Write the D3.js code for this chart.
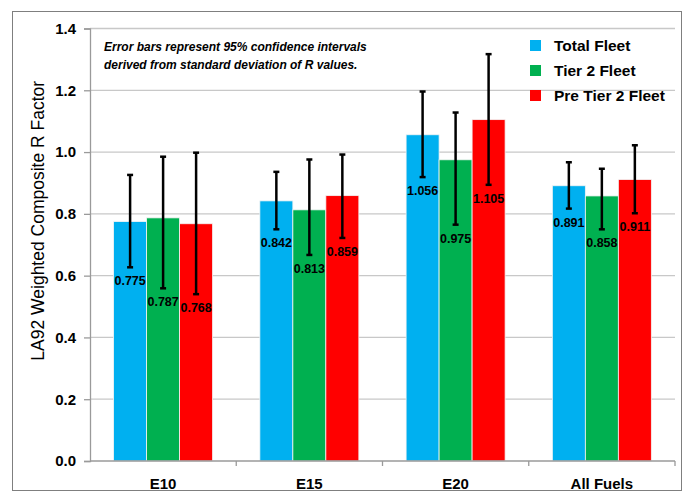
<!DOCTYPE html>
<html>
<head>
<meta charset="utf-8">
<script src="https://cdn.jsdelivr.net/npm/d3@7"></script>
<style>
  body { margin: 0; background: #fff; }
  text { font-family: "Liberation Sans", Arial, sans-serif; }
</style>
</head>
<body>
<div class="chart"></div>
<script>
// data
var categories = ["E10", "E15", "E20", "All Fuels"];
var series = ["Total Fleet", "Tier 2 Fleet", "Pre Tier 2 Fleet"];
var colors = ["#00B0F0", "#00B050", "#FF0000"];
var values = [
  [0.775, 0.787, 0.768],
  [0.842, 0.813, 0.859],
  [1.056, 0.975, 1.105],
  [0.891, 0.858, 0.911]
];
var errLow = [
  [0.627, 0.559, 0.540],
  [0.750, 0.667, 0.722],
  [0.919, 0.765, 0.894],
  [0.817, 0.750, 0.802]
];
var errHigh = [
  [0.926, 0.985, 0.998],
  [0.936, 0.976, 0.992],
  [1.196, 1.128, 1.317],
  [0.967, 0.946, 1.022]
];
var yTicks = [0, 0.2, 0.4, 0.6, 0.8, 1.0, 1.2, 1.4];

var width = 688, height = 493;
var plotLeft = 90, plotRight = 675, plotTop = 28.5, plotBottom = 461;

var svg = d3.select(".chart").append("svg")
  .attr("width", width).attr("height", height);

// outer frame
svg.append("rect")
  .attr("x", 12.5).attr("y", 11.5)
  .attr("width", 669).attr("height", 479)
  .attr("fill", "none").attr("stroke", "#7f7f7f").attr("stroke-width", 1);

var y = d3.scaleLinear().domain([0, 1.4]).range([plotBottom, plotTop]);
var x0 = d3.scaleBand().domain(categories).range([plotLeft, plotRight]).padding(0);
var x1 = d3.scaleBand().domain(series).range([23.6, 122.6]).padding(0);

// gridlines
svg.append("g").selectAll("line")
  .data(yTicks.filter(function(d) { return d > 0; }))
  .enter().append("line")
  .attr("x1", plotLeft).attr("x2", plotRight)
  .attr("y1", function(d) { return y(d); })
  .attr("y2", function(d) { return y(d); })
  .attr("stroke", "#c8c8c8").attr("stroke-width", 1.3);

// y axis
var yAxis = svg.append("g")
  .attr("transform", "translate(" + plotLeft + ",0)")
  .call(d3.axisLeft(y).tickValues(yTicks).tickFormat(d3.format(".1f")).tickSize(6).tickPadding(8));
yAxis.select(".domain").attr("stroke", "#9a9a9a").attr("stroke-width", 1.3);
yAxis.selectAll(".tick line").attr("stroke", "#9a9a9a").attr("stroke-width", 1.3);
yAxis.selectAll(".tick text")
  .attr("font-size", 15).attr("font-weight", "bold").attr("fill", "#000")
  .style("font-family", "'Liberation Sans', Arial, sans-serif");

function rows(d, i) {
  return series.map(function(s, j) {
    return {s: s, j: j, v: values[i][j], lo: errLow[i][j], hi: errHigh[i][j]};
  });
}

// bars
var groups = svg.append("g").selectAll("g")
  .data(categories)
  .enter().append("g")
  .attr("transform", function(d) { return "translate(" + x0(d) + ",0)"; });

groups.selectAll("rect")
  .data(rows)
  .enter().append("rect")
  .attr("x", function(d) { return x1(d.s); })
  .attr("width", x1.bandwidth())
  .attr("y", function(d) { return y(d.v); })
  .attr("height", function(d) { return y(0) - y(d.v); })
  .attr("fill", function(d) { return colors[d.j]; })
  .attr("stroke", "#f4f4f4").attr("stroke-width", 0.8);

// x axis
var xAxis = svg.append("g")
  .attr("transform", "translate(0," + plotBottom + ")");
xAxis.append("line")
  .attr("x1", plotLeft).attr("x2", plotRight)
  .attr("stroke", "#9a9a9a").attr("stroke-width", 1.3);
xAxis.selectAll(".sep")
  .data(categories)
  .enter().append("line")
  .attr("class", "sep")
  .attr("x1", function(d) { return x0(d) + x0.bandwidth(); })
  .attr("x2", function(d) { return x0(d) + x0.bandwidth(); })
  .attr("y1", 0).attr("y2", 5)
  .attr("stroke", "#9a9a9a").attr("stroke-width", 1.3);
xAxis.selectAll(".cat")
  .data(categories)
  .enter().append("text")
  .attr("x", function(d) { return x0(d) + x0.bandwidth() / 2; })
  .attr("y", 28)
  .attr("text-anchor", "middle")
  .attr("font-size", 15).attr("font-weight", "bold")
  .text(function(d) { return d; });

// error bars
var err = groups.selectAll(".err")
  .data(rows)
  .enter().append("g").attr("class", "err");
err.append("line")
  .attr("x1", function(d) { return x1(d.s) + x1.bandwidth() / 2; })
  .attr("x2", function(d) { return x1(d.s) + x1.bandwidth() / 2; })
  .attr("y1", function(d) { return y(d.lo); })
  .attr("y2", function(d) { return y(d.hi); })
  .attr("stroke", "#000").attr("stroke-width", 2.5);
["lo", "hi"].forEach(function(k) {
  err.append("line")
    .attr("x1", function(d) { return x1(d.s) + x1.bandwidth() / 2 - 3; })
    .attr("x2", function(d) { return x1(d.s) + x1.bandwidth() / 2 + 3; })
    .attr("y1", function(d) { return y(d[k]); })
    .attr("y2", function(d) { return y(d[k]); })
    .attr("stroke", "#000").attr("stroke-width", 2.5);
});
// value labels under the lower whisker
err.append("text")
  .attr("x", function(d) { return x1(d.s) + x1.bandwidth() / 2; })
  .attr("y", function(d) { return y(d.lo) + 18; })
  .attr("text-anchor", "middle")
  .attr("font-size", 12.5).attr("font-weight", "bold")
  .text(function(d) { return d3.format(".3f")(d.v); });

// y axis title
svg.append("text")
  .attr("transform", "translate(44," + ((plotTop + plotBottom) / 2 - 24) + ") rotate(-90)")
  .attr("text-anchor", "middle")
  .attr("font-size", 17.5)
  .text("LA92 Weighted Composite R Factor");

// note
var note = svg.append("text")
  .attr("font-size", 12).attr("font-weight", "bold").attr("font-style", "italic");
note.append("tspan").attr("x", 104).attr("y", 51).text("Error bars represent 95% confidence intervals");
note.append("tspan").attr("x", 104).attr("y", 69).text("derived from standard deviation of R values.");

// legend
var legend = svg.append("g").selectAll("g")
  .data(series)
  .enter().append("g")
  .attr("transform", function(d, i) { return "translate(530," + (40 + i * 25) + ")"; });
legend.append("rect")
  .attr("width", 11).attr("height", 11)
  .attr("fill", function(d, i) { return colors[i]; });
legend.append("text")
  .attr("x", 24).attr("y", 11)
  .attr("font-size", 15.5).attr("font-weight", "bold")
  .text(function(d) { return d; });
</script>
</body>
</html>
